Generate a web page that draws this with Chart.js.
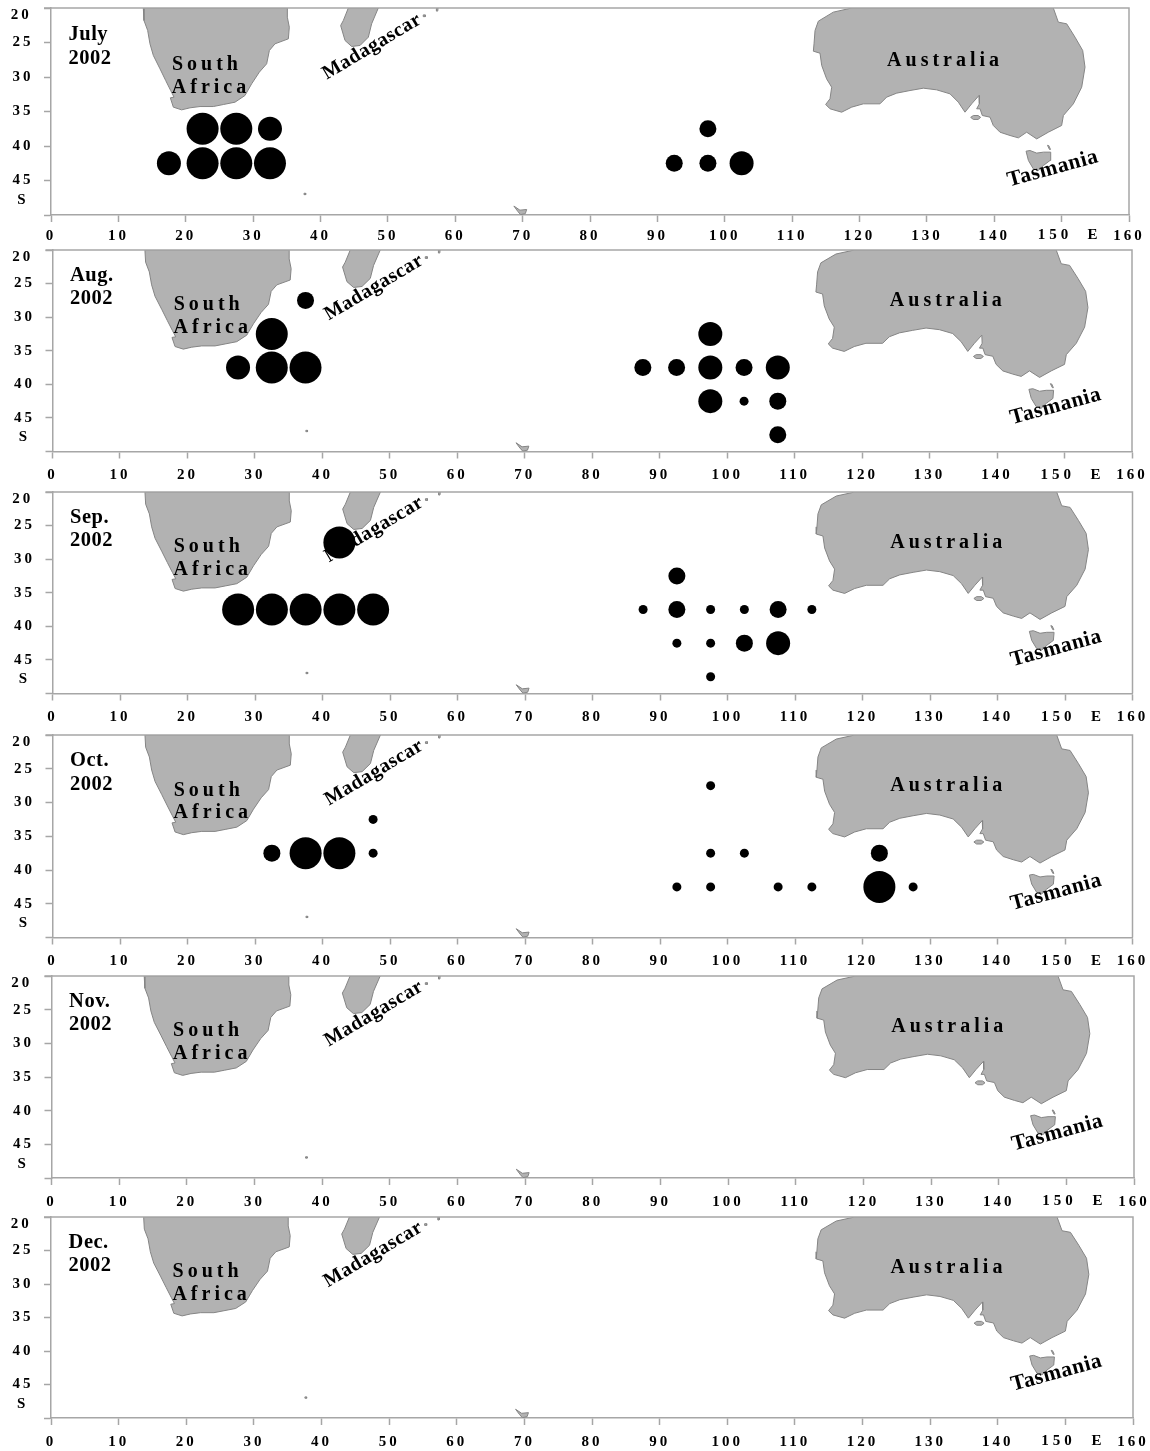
<!DOCTYPE html>
<html>
<head>
<meta charset="utf-8">
<title>Monthly distribution 2002</title>
<script src="https://cdn.jsdelivr.net/npm/chart.js@4/dist/chart.umd.js"></script>
<style>
  html, body { margin: 0; padding: 0; background: #fff; }
  #page { position: relative; width: 1150px; height: 1451px; overflow: hidden; }
  canvas { position: absolute; left: 0; filter: blur(.45px); }
</style>
</head>
<body>
<div id="page"></div>
<script>
/* ===== DATA (lon E, lat S, size class 1-4) ===== */
const monthNames = ['July', 'Aug.', 'Sep.', 'Oct.', 'Nov.', 'Dec.'];
const yearLabel = '2002';

const julyLons = [22.5, 27.5, 32.5, 17.5, 22.5, 27.5, 32.5, 97.5, 92.5, 97.5, 102.5];
const julyLats = [37.5, 37.5, 37.5, 42.5, 42.5, 42.5, 42.5, 37.5, 42.5, 42.5, 42.5];
const julySizes = [4, 4, 3, 3, 4, 4, 4, 2, 2, 2, 3];

const augLons = [37.5, 32.5, 27.5, 32.5, 37.5, 97.5, 87.5, 92.5, 97.5, 102.5, 107.5, 97.5, 102.5, 107.5, 107.5];
const augLats = [27.5, 32.5, 37.5, 37.5, 37.5, 32.5, 37.5, 37.5, 37.5, 37.5, 37.5, 42.5, 42.5, 42.5, 47.5];
const augSizes = [2, 4, 3, 4, 4, 3, 2, 2, 3, 2, 3, 3, 1, 2, 2];

const sepLons = [42.5, 27.5, 32.5, 37.5, 42.5, 47.5, 92.5, 87.5, 92.5, 97.5, 102.5, 107.5, 112.5, 92.5, 97.5, 102.5, 107.5, 97.5];
const sepLats = [27.5, 37.5, 37.5, 37.5, 37.5, 37.5, 32.5, 37.5, 37.5, 37.5, 37.5, 37.5, 37.5, 42.5, 42.5, 42.5, 42.5, 47.5];
const sepSizes = [4, 4, 4, 4, 4, 4, 2, 1, 2, 1, 1, 2, 1, 1, 1, 2, 3, 1];

const octLons = [47.5, 32.5, 37.5, 42.5, 47.5, 97.5, 97.5, 102.5, 122.5, 92.5, 97.5, 107.5, 112.5, 122.5, 127.5];
const octLats = [32.5, 37.5, 37.5, 37.5, 37.5, 27.5, 37.5, 37.5, 37.5, 42.5, 42.5, 42.5, 42.5, 42.5, 42.5];
const octSizes = [1, 2, 4, 4, 1, 1, 1, 1, 2, 1, 1, 1, 1, 4, 1];

const novLons = [], novLats = [], novSizes = [];
const decLons = [], decLats = [], decSizes = [];

const allLons = [julyLons, augLons, sepLons, octLons, novLons, decLons];
const allLats = [julyLats, augLats, sepLats, octLats, novLats, decLats];
const allSizes = [julySizes, augSizes, sepSizes, octSizes, novSizes, decSizes];

// tick labels
const lonTicks = [0, 10, 20, 30, 40, 50, 60, 70, 80, 90, 100, 110, 120, 130, 140, 150, 160];
const latTicks = [20, 25, 30, 35, 40, 45, 50];

// coastlines, lon/lat pairs
const africaCoast = [[13.7,20],[13.8,21.81],[14.35,23.26],[14.69,25.19],[15.19,26.88],[16.18,28.82],[17.02,30.51],[17.76,31.96],[18.26,32.92],[17.71,33.02],[18.16,34.37],[19.39,34.76],[20.63,34.47],[22.12,34.28],[24.09,34.28],[25.58,33.99],[27.31,33.65],[28.79,32.68],[29.78,30.99],[30.92,29.3],[32.01,28.09],[32.41,26.16],[33.25,25.19],[35.23,24.47],[35.37,22.78],[35.08,21.33],[35.08,20]];
const madagascarCoast = [[44.13,20],[43.39,21.81],[42.99,22.54],[43.64,24.71],[44.63,25.58],[45.87,25.43],[47.1,24.23],[47.59,22.29],[48.58,20]];
const australiaCoast = [[118.84,20],[116.12,20.6],[113.89,21.91],[113.4,23.26],[113.25,25.19],[113.15,26.26],[114.14,26.55],[114.39,28.33],[115.12,30.27],[115.87,31.48],[115.62,33.16],[114.98,33.98],[115.62,34.61],[117.35,35.1],[118.84,34.37],[120.57,33.89],[123.04,33.89],[124.03,32.92],[125.52,32.34],[127.5,31.96],[129.48,31.62],[131.45,31.86],[133.43,32.44],[134.67,33.65],[135.66,35.1],[136.65,33.89],[137.74,32.68],[137.79,33.89],[137.39,34.61],[137.89,34.61],[138.23,35.58],[139.37,35.82],[139.86,37.03],[140.85,38],[142.34,38.48],[143.58,38.82],[144.81,38],[146.3,38.97],[148.03,38],[150,37.03],[150.26,35.58],[151.74,33.89],[152.98,31.48],[153.47,28.57],[153.13,26.16],[151.99,24.23],[150.75,22.29],[149.51,22.05],[148.77,20]];
const tasmaniaCoast = [[144.72,40.75],[145.07,42.1],[145.8,43.31],[146.55,43.55],[147.29,42.83],[148.28,42.1],[148.38,40.89],[147.29,40.89],[146.3,41.03],[145.3,40.65]];
const kangarooCoast = [[136.5,35.85],[136.9,35.58],[137.6,35.58],[137.98,35.85],[137.6,36.15],[136.9,36.15]];
const flindersCoast = [[147.9,39.9],[148.1,39.95],[148.35,40.5],[148.2,40.5]];
const kerguelenCoast = [[68.7,48.7],[69.6,49.3],[70.6,49.2],[70.4,49.8],[69.7,49.95],[69.3,49.5]];
const reunionCoast = [[55.25,21],[55.55,21],[55.55,21.25],[55.25,21.25]];
const mauritiusCoast = [[57.2,20],[57.45,20],[57.4,20.45],[57.2,20.45]];
const marionCoast = [[37.55,46.85],[37.8,46.85],[37.8,47.05],[37.55,47.05]];
const lands = [africaCoast, madagascarCoast, australiaCoast, tasmaniaCoast, kangarooCoast, flindersCoast, kerguelenCoast, reunionCoast, mauritiusCoast, marionCoast];

// place names on the map
const placeNames = ['South', 'Africa', 'Australia', 'Madagascar', 'Tasmania'];
const placeLons = [23.15, 23.75, 132.7, 47.65, 148.7];
const placeLats = [28.2, 31.6, 27.6, 25.6, 43.3];
const placeAngles = [0, 0, 0, -30.8, -15.3];
const placeSpacing = [4, 4, 4, 0.6, 0.6];
const placeFonts = [20, 20, 20, 20, 21.5];

/* ===== LAYOUT ===== */
const panelLefts = [51, 52.5, 52.5, 52.5, 51.5, 51];
const panelRights = [1129, 1132, 1132.5, 1132.5, 1134, 1133];
const panelTops = [7.5, 250, 491.5, 734.5, 975.5, 1216.5];
const panelBottoms = [214.5, 451.5, 693, 937, 1177.5, 1417.5];
const xLabelGaps = [5, 8, 8, 8, 8, 8];

const axisColor = '#a6a6a6';
const landFill = '#b2b2b2';
const landEdge = '#858585';
const serif = '"Liberation Serif", "Times New Roman", serif';
const sizeRadius = { 1: 4.5, 2: 8.5, 3: 12, 4: 16 };

function putText(ctx, text, x, y, font, spacing, align, angle) {
  ctx.save();
  ctx.font = font;
  ctx.letterSpacing = spacing + 'px';
  ctx.fillStyle = '#000';
  ctx.textAlign = align;
  ctx.textBaseline = 'middle';
  ctx.translate(x, y);
  if (angle) ctx.rotate(angle * Math.PI / 180);
  ctx.fillText(text, 0, 0);
  ctx.restore();
}

const mapText = {
  id: 'mapText',
  beforeDraw(chart) {
    chart.ctx.letterSpacing = '3px';
  },
  // names go under the bubbles (Sep. covers the M of Madagascar)
  beforeDatasetDraw(chart, args) {
    if (args.meta.type !== 'bubble') return;
    const { x, y } = chart.scales;
    const ctx = chart.ctx;
    placeNames.forEach((name, i) => {
      putText(ctx, name, x.getPixelForValue(placeLons[i]), y.getPixelForValue(placeLats[i]),
        `bold ${placeFonts[i]}px ${serif}`, placeSpacing[i], 'center', placeAngles[i]);
    });
    const m = chart.options.plugins.mapText;
    const left = x.getPixelForValue(2.6);
    putText(ctx, monthNames[m.panel], left, y.getPixelForValue(23.8), `bold 20.5px ${serif}`, 0.5, 'left');
    putText(ctx, yearLabel, left, y.getPixelForValue(27.3), `bold 20.5px ${serif}`, 0.5, 'left');
  },
  afterDraw(chart) {
    const { x, y } = chart.scales;
    const { left, right, top, bottom } = chart.chartArea;
    const ctx = chart.ctx;
    ctx.save();
    ctx.strokeStyle = axisColor;
    ctx.lineWidth = 1.5;
    ctx.beginPath();
    ctx.moveTo(left - 7, top);
    ctx.lineTo(right, top);
    ctx.lineTo(right, bottom);
    ctx.stroke();
    ctx.restore();
    // labels that sit off their ticks in the original
    const font = `bold 15px ${serif}`;
    const labelY = bottom + chart.options.plugins.mapText.gap + 15.5;
    const labelX = x.getPixelForValue(-4.4);
    putText(ctx, '20', labelX, y.getPixelForValue(21.1), font, 3, 'center');
    putText(ctx, 'S', labelX, y.getPixelForValue(47.9), font, 0, 'center');
    putText(ctx, '150', x.getPixelForValue(149), labelY, font, 4, 'center');
    putText(ctx, 'E', x.getPixelForValue(154.6), labelY, font, 0, 'center');
  }
};

function buildPanel(p) {
  // padTop has to stay above the bubble overflow chart.js adds around the plot
  const padTop = 20, padBottom = 30;
  const height = panelBottoms[p] - panelTops[p];
  const canvas = document.createElement('canvas');
  canvas.width = 1150;
  canvas.height = Math.ceil(height + padTop + padBottom);
  canvas.style.top = (panelTops[p] - padTop) + 'px';
  document.getElementById('page').appendChild(canvas);

  const datasets = lands.map(coast => ({
    type: 'line',
    data: [...coast, coast[0]].map(c => ({ x: c[0], y: c[1] })),
    backgroundColor: landFill,
    borderColor: landEdge,
    borderWidth: 1,
    pointRadius: 0,
    tension: 0,
    fill: 'shape',
    order: 2
  }));
  datasets.push({
    type: 'bubble',
    data: allLons[p].map((lon, i) => ({ x: lon, y: allLats[p][i], r: sizeRadius[allSizes[p][i]] })),
    backgroundColor: '#000',
    borderWidth: 0,
    clip: false,
    order: 1
  });

  new Chart(canvas, {
    type: 'bubble',
    data: { datasets },
    plugins: [mapText],
    options: {
      responsive: false,
      animation: false,
      events: [],
      layout: {
        padding: { left: 0, right: 1150 - panelRights[p], top: padTop, bottom: 0 }
      },
      plugins: {
        legend: { display: false },
        tooltip: { enabled: false },
        mapText: { panel: p, gap: xLabelGaps[p] }
      },
      scales: {
        x: {
          type: 'linear',
          min: 0,
          max: 160,
          // keep the plot box where the original has it, labels may overhang
          afterFit(scale) {
            scale.height = canvas.height - padTop - height;
            scale.paddingLeft = 0;
            scale.paddingRight = 0;
          },
          afterBuildTicks(scale) { scale.ticks = lonTicks.map(v => ({ value: v })); },
          border: { color: axisColor, width: 1.5 },
          grid: { drawOnChartArea: false, color: axisColor, tickLength: 7, tickWidth: 1.5 },
          ticks: {
            autoSkip: false,
            maxRotation: 0,
            color: '#000',
            padding: xLabelGaps[p],
            font: { family: serif, size: 15, weight: 'bold' },
            callback: v => (v === 150 ? '' : String(v))
          }
        },
        y: {
          type: 'linear',
          reverse: true,
          min: 20,
          max: 50,
          afterFit(scale) {
            scale.width = panelLefts[p];
            scale.paddingTop = 0;
            scale.paddingBottom = 0;
          },
          afterBuildTicks(scale) { scale.ticks = latTicks.map(v => ({ value: v })); },
          border: { color: axisColor, width: 1.5 },
          grid: { drawOnChartArea: false, color: axisColor, tickLength: 7, tickWidth: 1.5 },
          ticks: {
            autoSkip: false,
            color: '#000',
            padding: 10.5,
            font: { family: serif, size: 15, weight: 'bold' },
            callback: v => (v === 20 || v === 50 ? '' : String(v))
          }
        }
      }
    }
  });
}

monthNames.forEach((name, p) => buildPanel(p));
</script>
</body>
</html>
